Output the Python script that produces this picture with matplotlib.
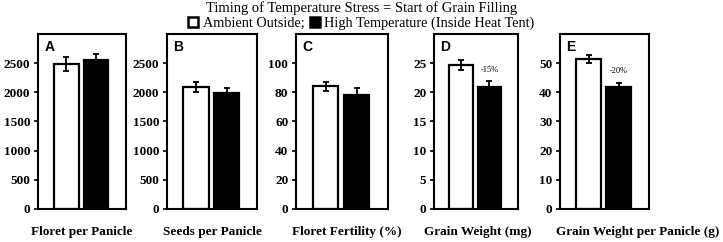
import matplotlib

matplotlib.use("Agg")

import matplotlib.pyplot as plt
from matplotlib.patches import Patch

# panel data
panels = ["A", "B", "C", "D", "E"]
xlabels = [
    "Floret per Panicle",
    "Seeds per Panicle",
    "Floret Fertility (%)",
    "Grain Weight (mg)",
    "Grain Weight per Panicle (g)",
]
ambient = [2480, 2090, 84.2, 24.7, 51.4]
ambient_err = [120, 80, 3.0, 0.9, 1.3]
heat = [2550, 1990, 78.1, 20.9, 41.7]
heat_err = [115, 85, 4.8, 1.0, 1.5]
ymax = [3000, 3000, 120, 30, 60]
ystep = [500, 500, 20, 5, 10]
notes = ["", "", "", "-15%", "-20%"]

# axes boxes in figure fraction: left, width, x of the axis label
boxes = [
    (0.0526, 0.1217, 0.50),
    (0.2310, 0.1245, 0.50),
    (0.4094, 0.1270, 0.55),
    (0.6003, 0.1160, 0.52),
    (0.7746, 0.1230, 0.876),
]

serif = "Liberation Serif"

fig = plt.figure(figsize=(7.23, 2.42), dpi=100)

for i, (left, width, label_x) in enumerate(boxes):
    ax = fig.add_axes([left, 0.1364, width, 0.7231])
    err_kw = dict(elinewidth=1.3, capthick=1.3, ecolor="black")
    ax.bar(1, ambient[i], width=0.82, color="white", edgecolor="black",
           linewidth=1.6, yerr=ambient_err[i], capsize=2.5, error_kw=err_kw)
    ax.bar(2, heat[i], width=0.82, color="black", edgecolor="black",
           linewidth=1.6, yerr=heat_err[i], capsize=2.5, error_kw=err_kw)
    ax.set_xlim(0.05, 3.0)
    ax.set_ylim(0, ymax[i])
    ax.set_yticks(list(range(0, ymax[i], ystep[i])))
    ax.set_xticks([])
    ax.tick_params(axis="y", direction="out", length=3, width=1.2, pad=2.5)
    for lab in ax.get_yticklabels():
        lab.set_fontfamily(serif)
        lab.set_fontweight("bold")
        lab.set_fontsize(9.5)
    for spine in ax.spines.values():
        spine.set_linewidth(1.5)
    ax.set_xlabel(xlabels[i], fontfamily=serif, fontweight="bold",
                  fontsize=9.5, labelpad=12, x=label_x)
    ax.text(0.07, 0.965, panels[i], transform=ax.transAxes, ha="left",
            va="top", fontsize=10, fontweight="bold", fontfamily="Liberation Sans")
    if notes[i]:
        ax.text(2, heat[i] + heat_err[i] + 0.067 * ymax[i], notes[i],
                ha="center", va="center", fontsize=6, fontfamily=serif)

fig.text(0.5, 0.965, "Timing of Temperature Stress = Start of Grain Filling",
         ha="center", va="center", fontsize=10.5, fontfamily=serif)

handles = [
    Patch(facecolor="white", edgecolor="black", linewidth=1.8),
    Patch(facecolor="black", edgecolor="black", linewidth=1.8),
]
fig.legend(handles, ["Ambient Outside;", "High Temperature (Inside Heat Tent)"],
           loc="center", bbox_to_anchor=(0.5, 0.905), ncol=2, frameon=False,
           handlelength=0.7, handleheight=0.7, handletextpad=0.3,
           columnspacing=0.4, borderpad=0, prop={"family": serif, "size": 10.3})

fig.savefig("out.png", dpi=100)
